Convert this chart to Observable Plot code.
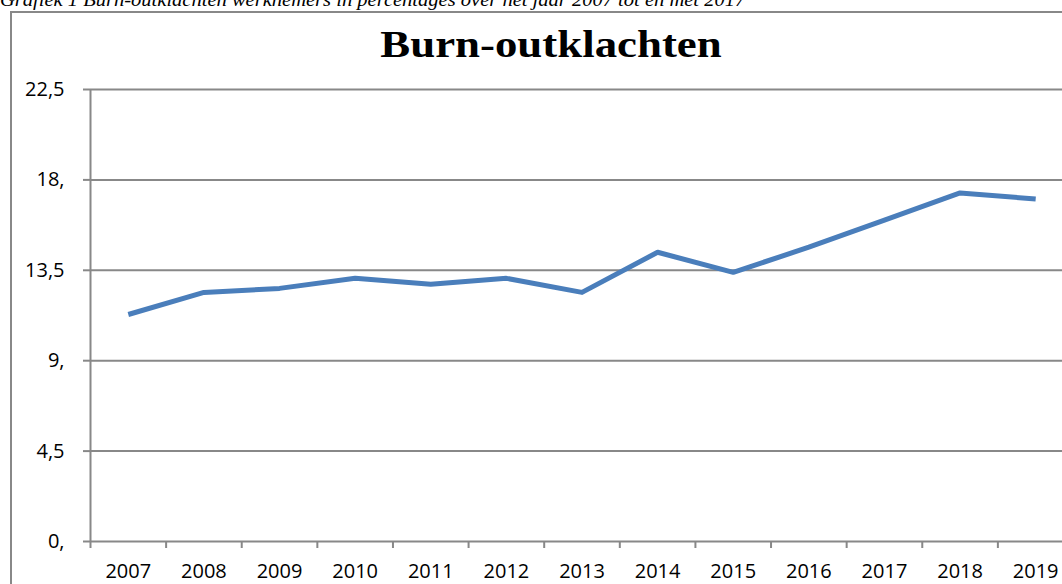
<!DOCTYPE html>
<html>
<head>
<meta charset="utf-8">
<script src="https://cdn.jsdelivr.net/npm/d3@7"></script>
<script src="https://cdn.jsdelivr.net/npm/@observablehq/plot@0.6"></script>
<style>
  html, body { margin: 0; padding: 0; background: white; overflow: hidden; width: 1062px; height: 584px; }
  #wrap { position: relative; width: 1062px; height: 584px; overflow: hidden; }
  #caption { position: absolute; left: 0; top: -11px; font-family: "Liberation Serif", "Times New Roman", serif; font-style: italic; font-size: 19px; white-space: nowrap; color: #000; transform: scaleX(1.08); transform-origin: left top; }
  #box { position: absolute; left: 10px; top: 11px; width: 1200px; height: 800px; border: 2px solid #888; box-sizing: border-box; }
  #title { position: absolute; left: 551px; top: 24px; font-family: "Liberation Serif", "Times New Roman", serif; font-weight: bold; font-size: 38px; line-height: 40px; color: #000; white-space: nowrap; transform: translateX(-50%) scaleX(1.18); transform-origin: center top; }
  #chart { position: absolute; left: 0; top: 0; }
</style>
</head>
<body>
<div id="wrap">
  <div id="caption">Grafiek 1 Burn-outklachten werknemers in percentages over het jaar 2007 tot en met 2017</div>
  <div id="box"></div>
  <div id="title">Burn-outklachten</div>
  <div id="chart"></div>
</div>
<script>
const years = [2007, 2008, 2009, 2010, 2011, 2012, 2013, 2014, 2015, 2016, 2017, 2018, 2019];
const values = [11.3, 12.4, 12.6, 13.1, 12.8, 13.1, 12.4, 14.4, 13.4, 14.65, 16.0, 17.35, 17.05];
const yTicks = [0, 4.5, 9, 13.5, 18, 22.5];
const yTickLabels = ["0,", "4,5", "9,", "13,5", "18,", "22,5"];
const xTickMarks = [2006.5, 2007.5, 2008.5, 2009.5, 2010.5, 2011.5, 2012.5, 2013.5, 2014.5, 2015.5, 2016.5, 2017.5, 2018.5, 2019.5];

const data = years.map((y, i) => ({year: y, value: values[i]}));
const grey = "#888888";
const font = "'Open Sans', sans-serif";

const chart = Plot.plot({
  width: 1075,
  height: 600,
  marginLeft: 90,
  marginRight: 2,
  marginTop: 89,
  marginBottom: 59,
  style: {background: "transparent", maxWidth: "none", fontFamily: font, fontSize: "20px", color: "#000"},
  x: {type: "linear", domain: [2006.5, 2019.5]},
  y: {domain: [0, 22.5]},
  marks: [
    Plot.gridY(yTicks, {stroke: grey, strokeOpacity: 1, strokeWidth: 2}),
    Plot.ruleX([2006.5], {stroke: grey, strokeWidth: 2}),
    Plot.axisY(yTicks, {tickSize: 7, tickPadding: 19, stroke: grey, strokeWidth: 2, strokeOpacity: 1, tickFormat: (d, i) => yTickLabels[i], label: null, fill: "#000", fontSize: 20}),
    Plot.axisX(xTickMarks, {tickSize: 7, stroke: grey, strokeWidth: 2, strokeOpacity: 1, tickFormat: () => "", label: null}),
    Plot.axisX(years, {tickSize: 0, tickPadding: 22, tickFormat: d => String(d), label: null, fill: "#000", fontSize: 20}),
    Plot.lineY(data, {x: "year", y: "value", stroke: "#4a7ebb", strokeWidth: 5, strokeLinejoin: "round", strokeLinecap: "butt"})
  ]
});
document.getElementById("chart").appendChild(chart);
</script>
</body>
</html>
